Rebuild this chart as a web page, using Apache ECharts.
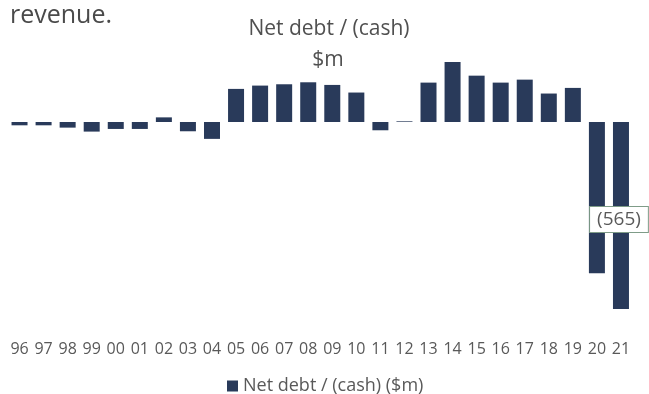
<!DOCTYPE html>
<html>
<head>
<meta charset="utf-8">
<script src="https://cdn.jsdelivr.net/npm/echarts@6/dist/echarts.min.js"></script>
<style>
  html, body { margin: 0; padding: 0; background: #ffffff; }
  #chart { width: 649px; height: 394px; }
</style>
</head>
<body>
<div id="chart"></div>
<script>
// Fiscal years (two-digit) along the x axis
const years = ['96', '97', '98', '99', '00', '01', '02', '03', '04', '05', '06', '07', '08',
               '09', '10', '11', '12', '13', '14', '15', '16', '17', '18', '19', '20', '21'];

// Net debt / (cash) in $m; negative values are net cash
const netDebt = [-10, -10, -17, -29, -21, -21, 14, -28, -51, 100, 110, 114, 120,
                 112, 89, -25, 2, 119, 181, 140, 119, 128, 86, 103, -457, -565];

// Year whose value is called out with a data label
const labelledYears = ['21'];

const titleLines = ['Net debt / (cash)', '$m'];
const seriesName = 'Net debt / (cash) ($m)';
const introText = 'revenue.';

const BAR_COLOR = '#293a5a';
const TEXT_GREY = '#595959';

// Accounting style: negatives shown in parentheses
function fmt(v) {
  return v < 0 ? '(' + (-v) + ')' : String(v);
}

const barData = netDebt.map(function (v, i) {
  const item = { value: v };
  if (labelledYears.indexOf(years[i]) !== -1) {
    item.label = {
      show: true,
      position: 'inside',
      offset: [-2, 4],
      formatter: function (p) { return fmt(p.value); },
      color: TEXT_GREY,
      fontFamily: 'Open Sans',
      fontSize: 19,
      backgroundColor: '#ffffff',
      borderColor: '#7f9c88',
      borderWidth: 1,
      padding: [3, 7, 3, 7]
    };
  }
  return item;
});

const chart = echarts.init(document.getElementById('chart'), null, { renderer: 'canvas' });

chart.setOption({
  animation: false,
  backgroundColor: '#ffffff',
  graphic: [
    {
      type: 'text',
      left: 10,
      top: 3,
      style: {
        text: introText,
        font: '25px "Open Sans"',
        fill: '#4a4a4a'
      }
    },
    {
      type: 'text',
      x: 329,
      y: 29,
      style: {
        text: titleLines[0],
        font: '21px "Open Sans"',
        fill: '#505050',
        align: 'center',
        verticalAlign: 'middle'
      }
    },
    {
      type: 'text',
      x: 328,
      y: 60,
      style: {
        text: titleLines[1],
        font: '21px "Open Sans"',
        fill: '#505050',
        align: 'center',
        verticalAlign: 'middle'
      }
    }
  ],
  legend: {
    data: [seriesName],
    left: 222,
    top: 372,
    icon: 'rect',
    itemWidth: 11,
    itemHeight: 11,
    itemGap: 10,
    textStyle: {
      color: TEXT_GREY,
      fontFamily: 'Open Sans',
      fontSize: 18
    }
  },
  grid: {
    left: 7.5,
    right: 16,
    top: 55.8,
    bottom: 73.4,
    containLabel: false
  },
  xAxis: {
    type: 'category',
    data: years,
    boundaryGap: true,
    axisLine: { show: false, onZero: false },
    axisTick: { show: false },
    axisLabel: {
      interval: 0,
      margin: 21,
      color: TEXT_GREY,
      fontFamily: 'Open Sans',
      fontSize: 16
    }
  },
  yAxis: {
    type: 'value',
    min: -600,
    max: 200,
    show: false,
    splitLine: { show: false }
  },
  series: [
    {
      name: seriesName,
      type: 'bar',
      data: barData,
      barWidth: 16,
      itemStyle: { color: BAR_COLOR },
      label: { show: false }
    }
  ]
});
</script>
</body>
</html>
